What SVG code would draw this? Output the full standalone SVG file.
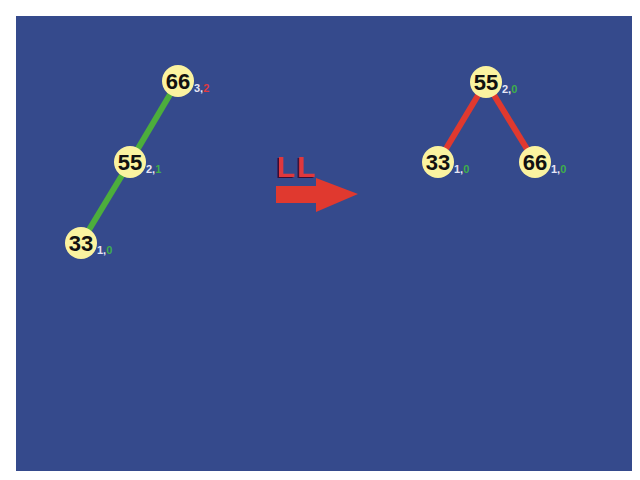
<svg xmlns="http://www.w3.org/2000/svg" width="640" height="480" viewBox="0 0 640 480">
<defs>
<filter id="sh" x="-20%" y="-20%" width="140%" height="140%">
<feDropShadow dx="-1.5" dy="1" stdDeviation="0" flood-color="#3a1030" flood-opacity="1"/>
</filter>
</defs>
<style>
.node circle{fill:#fbf3a0;}
.node text.v{font-family:"Liberation Sans",Arial,sans-serif;font-size:22px;font-weight:bold;fill:#111;text-anchor:middle;}
.lbl{font-family:"Liberation Sans",Arial,sans-serif;font-size:11px;font-weight:bold;}
.w{fill:#e6e6f6;}
.r{fill:#e0393e;}
.g{fill:#3fae4a;}
.eg{stroke:#4cae3c;stroke-width:6;}
.er{stroke:#e0392f;stroke-width:6;}
</style>
<rect x="0" y="0" width="640" height="480" fill="#ffffff"/>
<rect x="16" y="16" width="616" height="455" fill="#354a8c"/>
<g id="connectors">
<line class="eg" x1="178" y1="81" x2="130" y2="162"/>
<line class="eg" x1="130" y1="162" x2="81" y2="243"/>
<line class="er" x1="486" y1="82" x2="438" y2="162"/>
<line class="er" x1="486" y1="82" x2="535" y2="162"/>
</g>
<g id="arrow">
<text x="277" y="177" font-family="Liberation Sans,Arial,sans-serif" font-size="30" font-weight="bold" fill="#e0393e" letter-spacing="2" filter="url(#sh)">LL</text>
<polygon points="276,186 316,186 316,178 358,194 316,212 316,203 276,203" fill="#e0392f"/>
</g>
<g id="n66a" class="node"><circle cx="178" cy="81" r="16"/><text class="v" x="178" y="89">66</text><text class="lbl" x="194" y="92"><tspan class="w">3,</tspan><tspan class="r">2</tspan></text></g>
<g id="n55a" class="node"><circle cx="130" cy="162" r="16"/><text class="v" x="130" y="170">55</text><text class="lbl" x="146" y="173"><tspan class="w">2,</tspan><tspan class="g">1</tspan></text></g>
<g id="n33a" class="node"><circle cx="81" cy="243" r="16"/><text class="v" x="81" y="251">33</text><text class="lbl" x="97" y="254"><tspan class="w">1,</tspan><tspan class="g">0</tspan></text></g>
<g id="n55b" class="node"><circle cx="486" cy="82" r="16"/><text class="v" x="486" y="90">55</text><text class="lbl" x="502" y="93"><tspan class="w">2,</tspan><tspan class="g">0</tspan></text></g>
<g id="n33b" class="node"><circle cx="438" cy="162" r="16"/><text class="v" x="438" y="170">33</text><text class="lbl" x="454" y="173"><tspan class="w">1,</tspan><tspan class="g">0</tspan></text></g>
<g id="n66b" class="node"><circle cx="535" cy="162" r="16"/><text class="v" x="535" y="170">66</text><text class="lbl" x="551" y="173"><tspan class="w">1,</tspan><tspan class="g">0</tspan></text></g>
</svg>
